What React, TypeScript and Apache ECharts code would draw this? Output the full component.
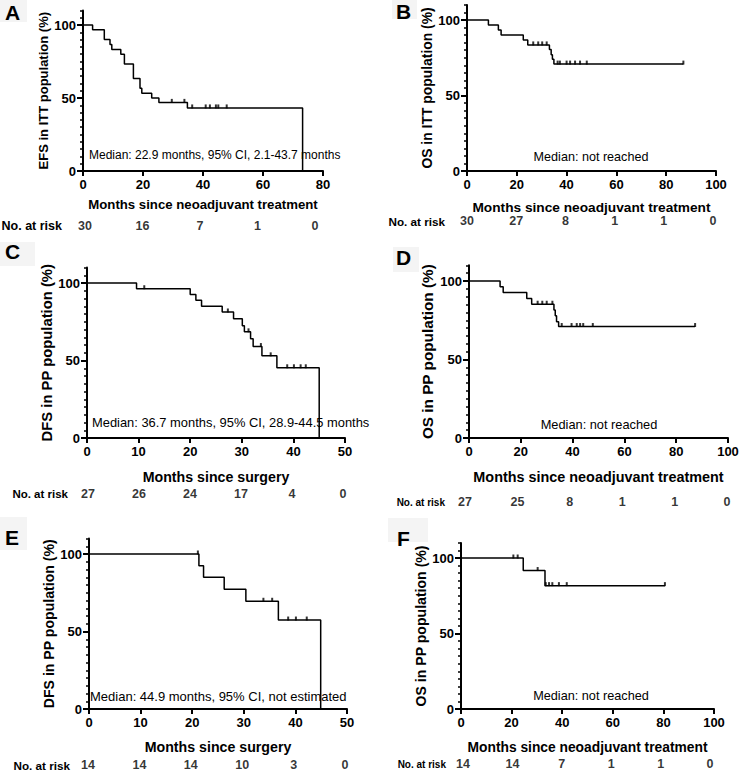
import React, { useEffect, useRef } from "react";
import * as echarts from "echarts";

const FONT = '"Liberation Sans", Arial, Helvetica, sans-serif';

// ---------- Panel A: EFS in ITT population ----------
const aTimes = [0, 3.2, 7.1, 9.0, 9.6, 12.6, 13.8, 16.8, 19.0, 19.6, 22.9, 25.3, 34.8, 73.2, 73.2];
const aSurv = [100, 96.7, 90, 86.7, 83.3, 80, 73.3, 63.3, 56.7, 53.3, 50, 47, 43.2, 43.2, 0];
const aCensT = [29.6, 33.8, 36.4, 40.9, 42.3, 44.3, 45.1, 47.9];
const aCensS = [47, 47, 43.2, 43.2, 43.2, 43.2, 43.2, 43.2];
const aRisk = [30, 16, 7, 1, 0];

// ---------- Panel B: OS in ITT population ----------
const bTimes = [0, 8.6, 12.6, 13.7, 22.6, 24.4, 33.1, 33.8, 34.3, 34.9, 86.9];
const bSurv = [100, 96.7, 93.3, 90, 86.7, 83.5, 80.5, 77, 74, 70.8, 70.8];
const bCensT = [26.6, 28.6, 30.2, 32.0, 36.4, 37.3, 40.0, 41.4, 43.4, 45.4, 48.1, 86.9];
const bCensS = [83.5, 83.5, 83.5, 83.5, 70.8, 70.8, 70.8, 70.8, 70.8, 70.8, 70.8, 70.8];
const bRisk = [30, 27, 8, 1, 1, 0];

// ---------- Panel C: DFS in PP population ----------
const cTimes = [0, 9.6, 20.0, 21.1, 22.2, 26.2, 28.4, 30.1, 30.5, 31.7, 32.2, 33.9, 36.8, 45.0, 45.0];
const cSurv = [100, 96.3, 92.6, 88.9, 85, 81.3, 77, 72.5, 68.5, 64, 59, 53, 45.3, 45.3, 0];
const cCensT = [11.1, 27.3, 31.3, 33.7, 35.6, 38.8, 40.1, 41.4, 42.4];
const cCensS = [96.3, 81.3, 68.5, 59, 53, 45.3, 45.3, 45.3, 45.3];
const cRisk = [27, 26, 24, 17, 4, 0];

// ---------- Panel D: OS in PP population ----------
const dTimes = [0, 12.0, 13.2, 22.3, 24.2, 32.8, 33.3, 33.8, 34.6, 87.3];
const dSurv = [100, 96.3, 92.6, 88.9, 85.2, 81.5, 77.8, 74.1, 71, 71];
const dCensT = [26.5, 28.3, 30.0, 32.2, 35.8, 39.6, 41.6, 42.9, 44.1, 47.8, 87.3];
const dCensS = [85.2, 85.2, 85.2, 85.2, 71, 71, 71, 71, 71, 71, 71];
const dRisk = [27, 25, 8, 1, 1, 0];

// ---------- Panel E: DFS in PP population ----------
const eTimes = [0, 21.3, 22.2, 26.2, 30.4, 36.7, 44.9, 44.9];
const eSurv = [100, 92.5, 85, 77.3, 69.5, 57.4, 57.4, 0];
const eCensT = [21.1, 33.8, 35.5, 38.6, 40.1, 42.2];
const eCensS = [100, 69.5, 69.5, 57.4, 57.4, 57.4];
const eRisk = [14, 14, 14, 10, 3, 0];

// ---------- Panel F: OS in PP population ----------
const fTimes = [0, 24.6, 33.2, 80.6];
const fSurv = [100, 91.7, 81.7, 81.7];
const fCensT = [20.7, 22.4, 30.3, 33.5, 34.8, 36.1, 38.7, 41.8, 80.6];
const fCensS = [100, 100, 91.7, 81.7, 81.7, 81.7, 81.7, 81.7, 81.7];
const fRisk = [14, 14, 7, 1, 1, 0];

const yTicks = [0, 50, 100];

const panels = [
  {
    letter: "A", times: aTimes, surv: aSurv, censT: aCensT, censS: aCensS, risk: aRisk,
    xMax: 80, xInt: 20, yName: "EFS in ITT population (%)", xName: "Months since neoadjuvant treatment",
    median: "Median: 22.9 months, 95% CI, 2.1-43.7 months",
    left: 83, width: 240, y0: 171, y100: 25, yGap: 29, xGap: 27,
    yFs: 13, xFs: 13.2, medFs: 12, riskFs: 12.5, nrFs: 12.5,
    riskY: 226, riskLeft: 85, riskWidth: 230, riskLabelX: 62,
    medX: 89, medY: 155, medAlign: "left", lx: 5, ly: 5, bg: [0, 0, 27, 22],
  },
  {
    letter: "B", times: bTimes, surv: bSurv, censT: bCensT, censS: bCensS, risk: bRisk,
    xMax: 100, xInt: 20, yName: "OS in ITT population (%)", xName: "Months since neoadjuvant treatment",
    median: "Median: not reached",
    left: 467, width: 249, y0: 171, y100: 20, yGap: 29, xGap: 29,
    yFs: 13.9, xFs: 13.7, medFs: 12.6, riskFs: 12.5, nrFs: 11.7,
    riskY: 221, riskLeft: 467, riskWidth: 246, riskLabelX: 445,
    medX: 591, medY: 157, medAlign: "center", lx: 396, ly: 4, bg: [392, 0, 25, 19],
  },
  {
    letter: "C", times: cTimes, surv: cSurv, censT: cCensT, censS: cCensS, risk: cRisk,
    xMax: 50, xInt: 10, yName: "DFS in PP population (%)", xName: "Months since surgery",
    median: "Median: 36.7 months, 95% CI, 28.9-44.5 months",
    left: 87, width: 258, y0: 438, y100: 283, yGap: 25, xGap: 32,
    yFs: 14.8, xFs: 14.2, medFs: 12.9, riskFs: 12.5, nrFs: 11.5,
    riskY: 494, riskLeft: 88, riskWidth: 255, riskLabelX: 68,
    medX: 92, medY: 422, medAlign: "left", lx: 5, ly: 244, bg: [0, 242, 35, 24],
  },
  {
    letter: "D", times: dTimes, surv: dSurv, censT: dCensT, censS: dCensS, risk: dRisk,
    xMax: 100, xInt: 20, yName: "OS in PP population (%)", xName: "Months since neoadjuvant treatment",
    median: "Median: not reached",
    left: 469, width: 259, y0: 438, y100: 281, yGap: 34, xGap: 31.5,
    yFs: 15.3, xFs: 14.4, medFs: 12.8, riskFs: 12.5, nrFs: 10,
    riskY: 502, riskLeft: 465, riskWidth: 262, riskLabelX: 445,
    medX: 599, medY: 424, medAlign: "center", lx: 396, ly: 250, bg: [393, 247, 26, 25],
  },
  {
    letter: "E", times: eTimes, surv: eSurv, censT: eCensT, censS: eCensS, risk: eRisk,
    xMax: 50, xInt: 10, yName: "DFS in PP population (%)", xName: "Months since surgery",
    median: "Median: 44.9 months, 95% CI, not estimated",
    left: 89, width: 258, y0: 709, y100: 554, yGap: 28, xGap: 31,
    yFs: 14.1, xFs: 14.2, medFs: 13, riskFs: 12.5, nrFs: 11.7,
    riskY: 765, riskLeft: 88, riskWidth: 257, riskLabelX: 70,
    medX: 90, medY: 696, medAlign: "left", lx: 5, ly: 530, bg: [0, 517, 27, 33],
  },
  {
    letter: "F", times: fTimes, surv: fSurv, censT: fCensT, censS: fCensS, risk: fRisk,
    xMax: 100, xInt: 20, yName: "OS in PP population (%)", xName: "Months since neoadjuvant treatment",
    median: "Median: not reached",
    left: 461, width: 253, y0: 709, y100: 558, yGap: 23, xGap: 31,
    yFs: 14.1, xFs: 13.8, medFs: 12.7, riskFs: 12.5, nrFs: 10,
    riskY: 764, riskLeft: 463, riskWidth: 247, riskLabelX: 446,
    medX: 591, medY: 696, medAlign: "center", lx: 397, ly: 531, bg: [388, 518, 40, 24],
  },
];

function buildOption() {
  const grid: any[] = [];
  const xAxis: any[] = [];
  const yAxis: any[] = [];
  const series: any[] = [];
  const graphic: any[] = [];
  const n = panels.length;

  panels.forEach((p, i) => {
    const pp = (p.y0 - p.y100) / 100;
    const h = 110 * pp;
    grid[i] = { left: p.left, top: p.y0 - h, width: p.width, height: h, outerBoundsMode: "none", containLabel: false };
    grid[n + i] = { left: p.riskLeft, top: p.riskY - 0.5, width: p.riskWidth, height: 1, outerBoundsMode: "none", containLabel: false };

    xAxis[i] = {
      gridIndex: i, type: "value", min: 0, max: p.xMax, interval: p.xInt,
      axisLine: { show: true, onZero: false, lineStyle: { color: "#000", width: 2 } },
      axisTick: { show: true, length: 5, lineStyle: { color: "#000", width: 2 } },
      axisLabel: { show: true, margin: 7, color: "#000", fontFamily: FONT, fontWeight: "bold", fontSize: 13 },
      splitLine: { show: false },
      name: p.xName, nameLocation: "middle", nameGap: p.xGap,
      nameTextStyle: { color: "#000", fontFamily: FONT, fontWeight: "bold", fontSize: p.xFs },
    };
    xAxis[n + i] = { gridIndex: n + i, type: "value", min: 0, max: p.risk.length - 1, show: false };

    // minor ticks axis (every 5 %)
    yAxis[2 * i] = {
      gridIndex: i, type: "value", position: "left", min: 0, max: 110, interval: 5,
      axisLine: { show: true, onZero: false, lineStyle: { color: "#000", width: 2 } },
      axisTick: { show: true, length: 3, lineStyle: { color: "#000", width: 1.5 } },
      axisLabel: { show: false }, splitLine: { show: false },
    };
    // major ticks + labels
    yAxis[2 * i + 1] = {
      gridIndex: i, type: "value", position: "left", min: 0, max: 110, interval: 50,
      axisLine: { show: false },
      axisTick: { show: true, customValues: yTicks, length: 6, lineStyle: { color: "#000", width: 2 } },
      axisLabel: {
        show: true, customValues: yTicks, margin: 7, color: "#000", fontFamily: FONT, fontWeight: "bold", fontSize: 13,
        formatter: (v: number) => (yTicks.indexOf(v) >= 0 ? String(v) : ""),
      },
      splitLine: { show: false },
      name: p.yName, nameLocation: "middle", nameGap: p.yGap,
      nameTextStyle: { color: "#000", fontFamily: FONT, fontWeight: "bold", fontSize: p.yFs },
    };
    yAxis[2 * n + i] = { gridIndex: n + i, type: "value", min: 0, max: 1, show: false };

    series.push({
      type: "line", xAxisIndex: i, yAxisIndex: 2 * i + 1, step: "end", symbol: "none",
      lineStyle: { color: "#000", width: 1.5 }, clip: false,
      data: p.times.map((t, k) => [t, p.surv[k]]),
    });
    series.push({
      type: "scatter", xAxisIndex: i, yAxisIndex: 2 * i + 1, symbol: "rect",
      symbolSize: [2, 4], symbolOffset: [0, -1.5], itemStyle: { color: "#000" },
      data: p.censT.map((t, k) => [t, p.censS[k]]),
    });
    series.push({
      type: "scatter", xAxisIndex: n + i, yAxisIndex: 2 * n + i, symbolSize: 1,
      itemStyle: { color: "rgba(0,0,0,0)" },
      label: {
        show: true, position: "inside", color: "#000", fontFamily: FONT, fontWeight: "bold", fontSize: p.riskFs,
        formatter: (q: any) => String(q.value[2]),
      },
      data: p.risk.map((r, k) => [k, 0.5, r]),
    });

    graphic.push({
      type: "rect", shape: { x: p.bg[0], y: p.bg[1], width: p.bg[2], height: p.bg[3] },
      style: { fill: "#f4f4f4" }, z: 0,
    });
    graphic.push({
      type: "text", x: p.lx, y: p.ly - 3, z: 10,
      style: { text: p.letter, fill: "#000", font: `bold 21px ${FONT}`, textVerticalAlign: "top", textAlign: "left" },
    });
    graphic.push({
      type: "text", x: p.riskLabelX, y: p.riskY, z: 10,
      style: { text: "No. at risk", fill: "#000", font: `bold ${p.nrFs}px ${FONT}`, textAlign: "right", textVerticalAlign: "middle" },
    });
    graphic.push({
      type: "text", x: p.medX, y: p.medY, z: 10,
      style: { text: p.median, fill: "#000", font: `${p.medFs}px ${FONT}`, textAlign: p.medAlign, textVerticalAlign: "middle" },
    });
  });

  return { animation: false, backgroundColor: "#fff", grid, xAxis, yAxis, series, graphic };
}

export default function App() {
  const ref = useRef<HTMLDivElement>(null);
  useEffect(() => {
    if (!ref.current) return;
    const chart = echarts.init(ref.current, null, { renderer: "svg" });
    chart.setOption(buildOption());
    return () => chart.dispose();
  }, []);
  return <div ref={ref} style={{ width: 740, height: 771, position: "absolute", left: 0, top: 0 }} />;
}
